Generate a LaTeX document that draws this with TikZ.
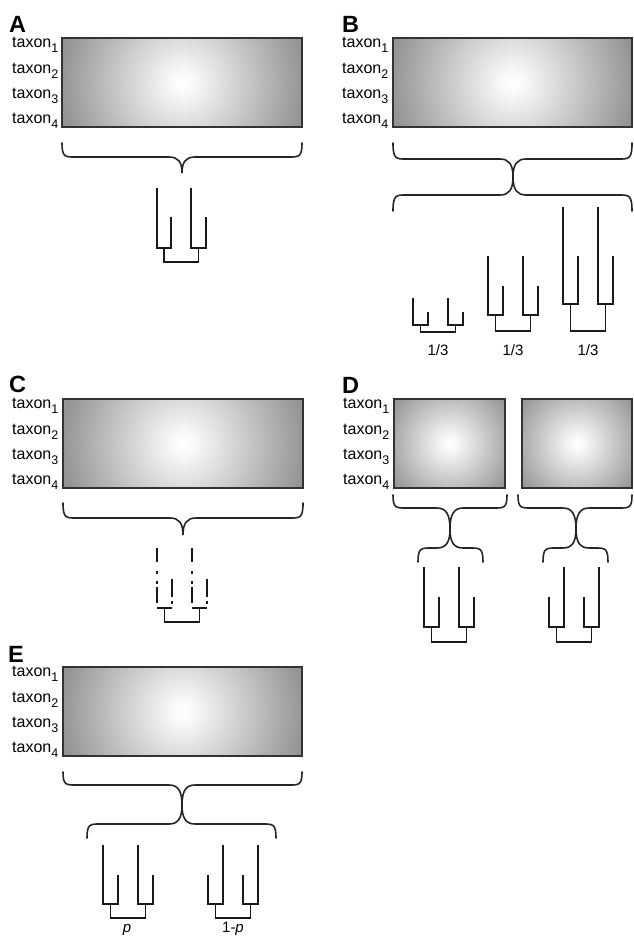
\documentclass[tikz,border=0pt]{standalone}
\usepackage{fontspec}
\setmainfont{Liberation Sans}
\pgfdeclareradialshading{glow}{\pgfpoint{0bp}{0bp}}{color(0bp)=(white); color(2bp)=(white!98!black); color(25bp)=(black!42); color(50bp)=(black!42)}
\tikzset{
  tline/.style={line width=1.8pt, draw=black!90},
  brace/.style={line width=1.6pt, draw=black!85, line cap=round},
  frame/.style={draw=black!80, line width=1.3pt},
  taxon/.style={anchor=base west, inner sep=0pt, font=\fontsize{16}{18}\selectfont},
  panel/.style={anchor=base west, inner sep=0pt, font=\fontsize{23.5}{26}\selectfont\bfseries},
  prob/.style={anchor=base, inner sep=0pt, font=\fontsize{15}{18}\selectfont},
}
\newcommand{\sub}[1]{\raisebox{-5pt}{\fontsize{12.5}{12.5}\selectfont #1}}
% name, x1, y1, x2, y2, R
\newcommand{\glowbox}[6]{%
  \begin{scope}
    \clip (#2,#3) rectangle (#4,#5);
    \fill[black!42] (#2,#3) rectangle (#4,#5);
    \shade[shading=glow] ({(#2+#4)/2},{(#3+#5)/2}) circle [radius=#6pt];
  \end{scope}
  \node[frame, inner sep=0pt, outer sep=0pt, minimum width={(#4-#2)*1pt}, minimum height={(#5-#3)*1pt}] (#1) at ({(#2+#4)/2},{(#3+#5)/2}) {};
}
% prefix, x, ytop
\newcommand{\taxa}[3]{%
  \node[taxon] (#1t1) at (#2,{#3+9.5}) {taxon\sub{1}};
  \node[taxon] (#1t2) at (#2,{#3+35}) {taxon\sub{2}};
  \node[taxon] (#1t3) at (#2,{#3+60.5}) {taxon\sub{3}};
  \node[taxon] (#1t4) at (#2,{#3+85.5}) {taxon\sub{4}};
}
% xl, xr, yend, ymid, ytip, xc
\newcommand{\brc}[6]{%
  \draw[brace] (#1,#3) .. controls (#1,#4) and ({#1+3},#4) .. ({#1+13},#4)
    -- ({#6-13},#4) .. controls ({#6-4},#4) and (#6,{#4+0.3*(#5-#4)}) .. (#6,#5)
    .. controls (#6,{#4+0.3*(#5-#4)}) and ({#6+4},#4) .. ({#6+13},#4)
    -- ({#2-13},#4) .. controls ({#2-3},#4) and (#2,#4) .. (#2,#3);
}
% x1,x2,x3,x4, yleft, yright, inner, outer
\newcommand{\qtree}[8]{%
  \draw[tline] (#1,#5) -- (#1,#7) -- (#2,#7) -- (#2,#6);
  \draw[tline] (#3,#5) -- (#3,#7) -- (#4,#7) -- (#4,#6);
  \draw[tline] ({(#1+#2)/2},#7) -- ({(#1+#2)/2},#8) -- ({(#3+#4)/2},#8) -- ({(#3+#4)/2},#7);
}
\begin{document}
\begin{tikzpicture}[x=1pt,y=-1pt]
\fill[white] (0,0) rectangle (633,938);
\useasboundingbox (0,0) rectangle (633,938);

% ---------------- A
\node[panel] (lA) at (9,32) {A};
\glowbox{rA}{62}{38}{302}{127}{122}
\taxa{a}{12}{38}
\brc{62}{302}{143}{157}{173}{182}
\qtree{157}{171}{191}{206}{188}{217}{248}{262}

% ---------------- B
\node[panel] (lB) at (342,32) {B};
\glowbox{rB}{393}{38}{632}{127}{122}
\taxa{b}{342}{38}
\brc{393}{632}{143}{159}{177}{513}
\brc{393}{632}{211}{195}{177}{513}
\qtree{413}{428}{448}{463}{298}{312}{325}{332}
\qtree{488}{503}{523}{538}{256}{286}{315}{331}
\qtree{563}{578}{598}{613}{207}{256}{304}{331}
\node[prob] (pb1) at (438,355) {1/3};
\node[prob] (pb2) at (513,355) {1/3};
\node[prob] (pb3) at (588,355) {1/3};

% ---------------- C
\node[panel] (lC) at (9,392) {C};
\glowbox{rC}{63}{399}{303}{488}{122}
\taxa{c}{12}{399}
\brc{63}{303}{503}{518}{535}{183}
\foreach \xt/\xs in {157/172, 192/207}{
  \draw[tline] (\xt,548) -- (\xt,562);
  \draw[tline] (\xt,571) -- (\xt,573.5);
  \draw[tline] (\xt,581) -- (\xt,583.5);
  \draw[tline] (\xt,587) -- (\xt,603);
  \draw[tline] (\xs,579) -- (\xs,597);
  \draw[tline] (\xs,601) -- (\xs,603.5);
  \draw[tline] (\xt,608) -- (\xs,608);
}
\draw[tline] (164.5,608) -- (164.5,622) -- (199.5,622) -- (199.5,608);

% ---------------- D
\node[panel] (lD) at (342,393) {D};
\glowbox{rD1}{394}{399}{505}{488}{70}
\glowbox{rD2}{522}{399}{632}{488}{70}
\taxa{d}{343}{399}
\brc{393}{507}{495}{508}{529}{450}
\brc{418}{483}{562}{548}{529}{450}
\brc{518}{632}{495}{508}{529}{576}
\brc{543}{608}{562}{548}{529}{576}
\qtree{424}{439}{459}{474}{567}{597}{627}{642}
\qtree{549}{564}{584}{599}{597}{567}{627}{642}

% ---------------- E
\node[panel] (lE) at (8,662) {E};
\glowbox{rE}{63}{667}{302}{756}{122}
\taxa{e}{12}{667}
\brc{63}{302}{772}{785}{805}{182}
\brc{87}{276}{838}{824}{805}{182}
\qtree{103}{118}{138}{153}{845}{875}{904}{918}
\qtree{208}{223}{243}{258}{875}{845}{904}{918}
\node[prob] (pe1) at (127,932) {\textit{p}};
\node[prob] (pe2) at (233,932) {1-\textit{p}};
\end{tikzpicture}
\end{document}
